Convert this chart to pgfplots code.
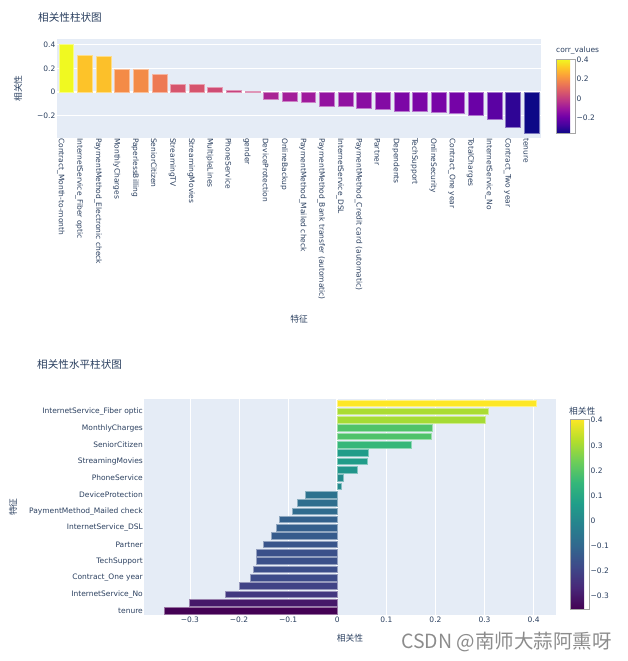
\documentclass[border=0pt]{standalone}
\usepackage{pgfplots}
\pgfplotsset{compat=1.18}
\usepackage{pgfplotstable}
\usepackage{fontspec}
\setmainfont{DejaVu Sans}
\newfontfamily\cjk{Noto Sans CJK SC}
\definecolor{txt}{HTML}{2A3F5F}
\definecolor{plotbg}{HTML}{E5ECF6}
\definecolor{wm}{rgb}{0.55,0.55,0.55}

\pgfplotsset{
  colormap={plasmaP}{rgb=(0.051,0.031,0.529) rgb=(0.275,0.012,0.624) rgb=(0.447,0.004,0.659) rgb=(0.612,0.090,0.620) rgb=(0.741,0.216,0.525) rgb=(0.847,0.341,0.420) rgb=(0.929,0.475,0.325) rgb=(0.984,0.624,0.227) rgb=(0.992,0.792,0.149) rgb=(0.941,0.976,0.129)},
  colormap={viridisP}{rgb=(0.267,0.004,0.329) rgb=(0.282,0.157,0.471) rgb=(0.243,0.286,0.537) rgb=(0.192,0.408,0.557) rgb=(0.149,0.510,0.557) rgb=(0.122,0.620,0.537) rgb=(0.208,0.718,0.475) rgb=(0.431,0.808,0.345) rgb=(0.710,0.871,0.169) rgb=(0.992,0.906,0.145)},
}

\pgfplotstableread{
idx val
0 0.405
1 0.308
2 0.302
3 0.193
4 0.192
5 0.151
6 0.063
7 0.061
8 0.040
9 0.012
10 0.0086
11 -0.066
12 -0.082
13 -0.091
14 -0.118
15 -0.124
16 -0.135
17 -0.150
18 -0.164
19 -0.165
20 -0.171
21 -0.178
22 -0.199
23 -0.228
24 -0.302
25 -0.352
}\corrtable

\newcommand\defcolors[2]{%
  \pgfplotsforeachungrouped \i in {0,...,25}{%
    \pgfplotstablegetelem{\i}{val}\of\corrtable
    \let\myv\pgfplotsretval
    \pgfplotscolormapaccess[-0.352:0.405]{\myv}{#2}%
    \edef\tmp{\noexpand\definecolor{#1\i}{rgb}{\pgfmathresult}}\tmp
  }%
}
\defcolors{pc}{plasmaP}%
\defcolors{vc}{viridisP}%

\begin{document}%
\begin{tikzpicture}
\useasboundingbox (0pt,0pt) rectangle (627pt,-661pt);

% ---------- top: vertical bars ----------
\begin{axis}[
  at={(57pt,-39pt)}, anchor=north west,
  scale only axis, width=484pt, height=99pt,
  xmin=-0.5, xmax=25.5, ymin=-0.39, ymax=0.449,
  axis background/.style={fill=plotbg},
  axis line style={draw=none}, tick style={draw=none},
  ymajorgrids, grid style={white, line width=0.8pt},
  ytick={-0.2,0,0.2,0.4}, yticklabels={−0.2,0,0.2,0.4},
  extra y ticks={0}, extra y tick labels={},
  extra y tick style={grid style={white, line width=1.6pt}},
  yticklabel style={font=\fontsize{7.5}{8}\selectfont, text=txt, inner sep=0pt, xshift=-1.5pt},
  xtick={0,...,25},
  xticklabels={{Contract\_Month-to-month},{InternetService\_Fiber optic},{PaymentMethod\_Electronic check},{MonthlyCharges},{PaperlessBilling},{SeniorCitizen},{StreamingTV},{StreamingMovies},{MultipleLines},{PhoneService},{gender},{DeviceProtection},{OnlineBackup},{PaymentMethod\_Mailed check},{PaymentMethod\_Bank transfer (automatic)},{InternetService\_DSL},{PaymentMethod\_Credit card (automatic)},{Partner},{Dependents},{TechSupport},{OnlineSecurity},{Contract\_One year},{TotalCharges},{InternetService\_No},{Contract\_Two year},{tenure}},
  xticklabel style={font=\fontsize{7.5}{8}\selectfont, text=txt, rotate=-90, anchor=west, inner sep=0pt, yshift=-5.5pt},
  colorbar, colormap name=plasmaP,
  point meta min=-0.352, point meta max=0.405,
  colorbar style={
    at={(1.031,0.798)}, anchor=north west,
    scale only axis, width=19pt, height=74pt,
    ytick={-0.2,0,0.2,0.4}, yticklabels={−0.2,0,0.2,0.4},
    yticklabel style={font=\fontsize{7.5}{8}\selectfont, text=txt, inner sep=0pt, xshift=1.5pt},
    tick style={draw=none},
    axis line style={draw=gray!70, line width=0.8pt},
  },
]
\pgfplotsinvokeforeach{0,...,25}{
  \addplot[ybar, bar width=0.8, bar shift=0pt, fill=pc#1, draw=pc#1!55!white, line width=0.6pt]
    table[x=idx, y=val, restrict expr to domain={\coordindex}{#1:#1}] {\corrtable};
}
\end{axis}

% ---------- bottom: horizontal bars ----------
\begin{axis}[
  at={(144pt,-399pt)}, anchor=north west,
  scale only axis, width=412pt, height=216pt,
  ymin=-0.5, ymax=25.5, y dir=reverse,
  xmin=-0.3935, xmax=0.4455,
  axis background/.style={fill=plotbg},
  axis line style={draw=none}, tick style={draw=none},
  xmajorgrids, grid style={white, line width=0.8pt},
  xtick={-0.3,-0.2,-0.1,0,0.1,0.2,0.3,0.4},
  xticklabels={−0.3,−0.2,−0.1,0,0.1,0.2,0.3,0.4},
  extra x ticks={0}, extra x tick labels={},
  extra x tick style={grid style={white, line width=1.6pt}},
  xticklabel style={font=\fontsize{7.5}{8}\selectfont, text=txt, inner sep=0pt, yshift=-2pt},
  ytick={1,3,...,25},
  yticklabels={{InternetService\_Fiber optic},{MonthlyCharges},{SeniorCitizen},{StreamingMovies},{PhoneService},{DeviceProtection},{PaymentMethod\_Mailed check},{InternetService\_DSL},{Partner},{TechSupport},{Contract\_One year},{InternetService\_No},{tenure}},
  yticklabel style={font=\fontsize{7.5}{8}\selectfont, text=txt, inner sep=0pt, xshift=-1pt},
  colorbar, colormap name=viridisP,
  point meta min=-0.352, point meta max=0.405,
  colorbar style={
    at={(1.034,0.9074)}, anchor=north west,
    scale only axis, width=19pt, height=190pt,
    ytick={-0.3,-0.2,-0.1,0,0.1,0.2,0.3,0.4},
    yticklabels={−0.3,−0.2,−0.1,0,0.1,0.2,0.3,0.4},
    yticklabel style={font=\fontsize{7.5}{8}\selectfont, text=txt, inner sep=0pt, xshift=1.5pt},
    tick style={draw=none},
    axis line style={draw=gray!70, line width=1pt},
  },
]
\pgfplotsinvokeforeach{0,...,25}{
  \addplot[xbar, bar width=0.8, bar shift=0pt, fill=vc#1, draw=vc#1!55!white, line width=0.6pt]
    table[y=idx, x=val, restrict expr to domain={\coordindex}{#1:#1}] {\corrtable};
}
\end{axis}

% ---------- titles and labels ----------
\node[anchor=west, text=txt, inner sep=0pt, font=\cjk\fontsize{10.6}{12}\selectfont] at (38pt,-17pt) {相关性柱状图};
\node[anchor=west, text=txt, inner sep=0pt, font=\cjk\fontsize{10.6}{12}\selectfont] at (37pt,-364pt) {相关性水平柱状图};
\node[rotate=90, text=txt, inner sep=0pt, font=\cjk\fontsize{8.75}{10}\selectfont] at (18pt,-88.5pt) {相关性};
\node[text=txt, inner sep=0pt, font=\cjk\fontsize{8.75}{10}\selectfont] at (299pt,-319pt) {特征};
\node[rotate=90, text=txt, inner sep=0pt, font=\cjk\fontsize{8.75}{10}\selectfont] at (13pt,-507pt) {特征};
\node[text=txt, inner sep=0pt, font=\cjk\fontsize{8.75}{10}\selectfont] at (350pt,-638pt) {相关性};
\node[anchor=west, text=txt, inner sep=0pt, font=\fontsize{7.5}{8}\selectfont] at (556pt,-51pt) {corr\_values};
\node[anchor=west, text=txt, inner sep=0pt, font=\cjk\fontsize{8.75}{10}\selectfont] at (569pt,-411pt) {相关性};
\node[anchor=west, text=wm, inner sep=0pt, font=\cjk\fontsize{19.5}{20}\selectfont] at (401pt,-642pt) {CSDN @南师大蒜阿熏呀};
\end{tikzpicture}%
\end{document}
